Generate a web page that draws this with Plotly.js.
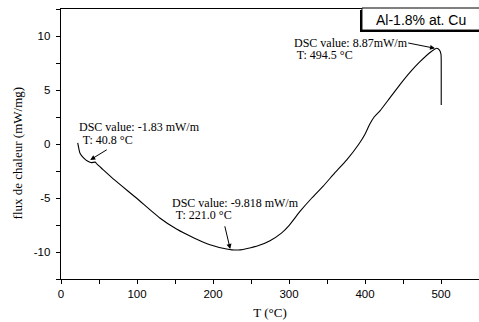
<!DOCTYPE html>
<html><head><meta charset="utf-8">
<script src="https://cdn.plot.ly/plotly-3.0.1.min.js"></script>
<style>html,body{margin:0;padding:0;background:#fff}#chart{width:479px;height:322px}</style>
</head><body><div id="chart"></div>
<script>
// DSC curve: temperature (°C) and heat flow (mW/mg)
var temperature = [22, 25, 30, 36, 40, 45, 47.5, 55, 70, 100, 130, 152, 175, 196, 218, 225, 236, 245, 260, 275, 290, 300, 315, 330, 345, 360, 376, 392, 400, 406, 412, 420, 432, 446, 460, 472, 486, 494.5, 498, 500, 500.3, 500.3];
var heatFlow    = [0.1, -0.85, -1.3, -1.62, -1.72, -1.68, -1.87, -2.35, -3.3, -5.05, -6.85, -7.88, -8.7, -9.33, -9.73, -9.8, -9.8, -9.68, -9.4, -8.95, -8.25, -7.55, -6.2, -5.0, -3.9, -2.7, -1.47, 0.0, 0.9, 1.8, 2.5, 3.1, 4.2, 5.5, 6.7, 7.6, 8.5, 8.87, 8.7, 8.3, 7.0, 3.6];
var seriesName = "Al-1.8% at. Cu";
var xTicks = [0, 100, 200, 300, 400, 500];
var yTicks = [-10, -5, 0, 5, 10];
var peakLines1 = ["DSC value: -1.83 mW/m", "DSC value: -9.818 mW/m", "DSC value: 8.87mW/m"];
var peakLines2 = [" T: 40.8 °C", " T: 221.0 °C", " T: 494.5 °C"];

var serif = "Liberation Serif, Times New Roman, serif";
var sans = "Liberation Sans, Arial, sans-serif";

var trace = {x: temperature, y: heatFlow, mode: "lines", type: "scatter",
  line: {color: "#000", width: 1.1, shape: "spline", smoothing: 0.5}, hoverinfo: "skip", showlegend: false};

function txt(x, y, t) {
  return {x: x, y: y, xref: "x", yref: "y", text: t, showarrow: false, xanchor: "left", yanchor: "middle",
    borderpad: 0, font: {family: serif, size: 12, color: "#000"}};
}
function arr(tx, ty, hx, hy) {
  return {x: hx, y: hy, ax: tx, ay: ty, xref: "x", yref: "y", axref: "x", ayref: "y", text: "",
    showarrow: true, arrowhead: 2, arrowsize: 1, arrowwidth: 1, arrowcolor: "#000", standoff: 0, startstandoff: 0};
}

var annotations = [
  txt(22.7, 1.55, peakLines1[0]), txt(23.5, 0.33, peakLines2[0]),
  txt(145, -5.42, peakLines1[1]), txt(146.5, -6.6, peakLines2[1]),
  txt(305.4, 9.38, peakLines1[2]), txt(305.4, 8.2, peakLines2[2]),
  arr(62.2, -0.45, 38.5, -1.47),
  arr(215.1, -7.48, 222.6, -9.72),
  arr(454.9, 9.38, 492.1, 8.86),
  {x: -0.103, y: 0.465, xref: "paper", yref: "paper", text: "flux de chaleur (mW/mg)", textangle: -90,
    showarrow: false, xanchor: "center", yanchor: "middle", font: {family: serif, size: 13, color: "#000"}},
  {x: 0.862, y: 0.961, xref: "paper", yref: "paper", text: seriesName, showarrow: false,
    xanchor: "center", yanchor: "middle", font: {family: sans, size: 14, color: "#000"}}
];

var shapes = [
  {type: "rect", xref: "paper", yref: "paper", x0: 0.7153, x1: 1.02, y0: 0.9148, y1: 0.9963,
    fillcolor: "#000", line: {width: 0}},
  {type: "rect", xref: "paper", yref: "paper", x0: 0.720, x1: 1.02, y0: 0.922, y1: 1.0037,
    fillcolor: "#fff", line: {color: "#000", width: 1}}
];

var axisCommon = {showgrid: false, zeroline: false, showline: true, linecolor: "#000", linewidth: 1.3,
  mirror: true, ticks: "outside", ticklen: 4, tickwidth: 1, tickcolor: "#000",
  tickfont: {family: sans, size: 11.5, color: "#000"}};

var layout = {
  width: 479, height: 322,
  margin: {l: 61, r: 0, t: 9, b: 43},
  paper_bgcolor: "#fff", plot_bgcolor: "#fff",
  xaxis: Object.assign({}, axisCommon, {range: [0, 550], tickvals: xTicks, ticktext: xTicks.map(String),
    minor: {dtick: 50, tick0: 0, ticks: "outside", ticklen: 4, tickcolor: "#000", tickwidth: 1},
    title: {text: "T (°C)", font: {family: serif, size: 13, color: "#000"}, standoff: 8}}),
  yaxis: Object.assign({}, axisCommon, {range: [-12.5, 12.5], tickvals: yTicks, ticktext: yTicks.map(String),
    ticklabelstandoff: 3,
    minor: {dtick: 2.5, tick0: 0, ticks: "outside", ticklen: 4, tickcolor: "#000", tickwidth: 1}}),
  annotations: annotations,
  shapes: shapes,
  showlegend: false
};

Plotly.newPlot("chart", [trace], layout, {staticPlot: true, displayModeBar: false});
</script></body></html>
